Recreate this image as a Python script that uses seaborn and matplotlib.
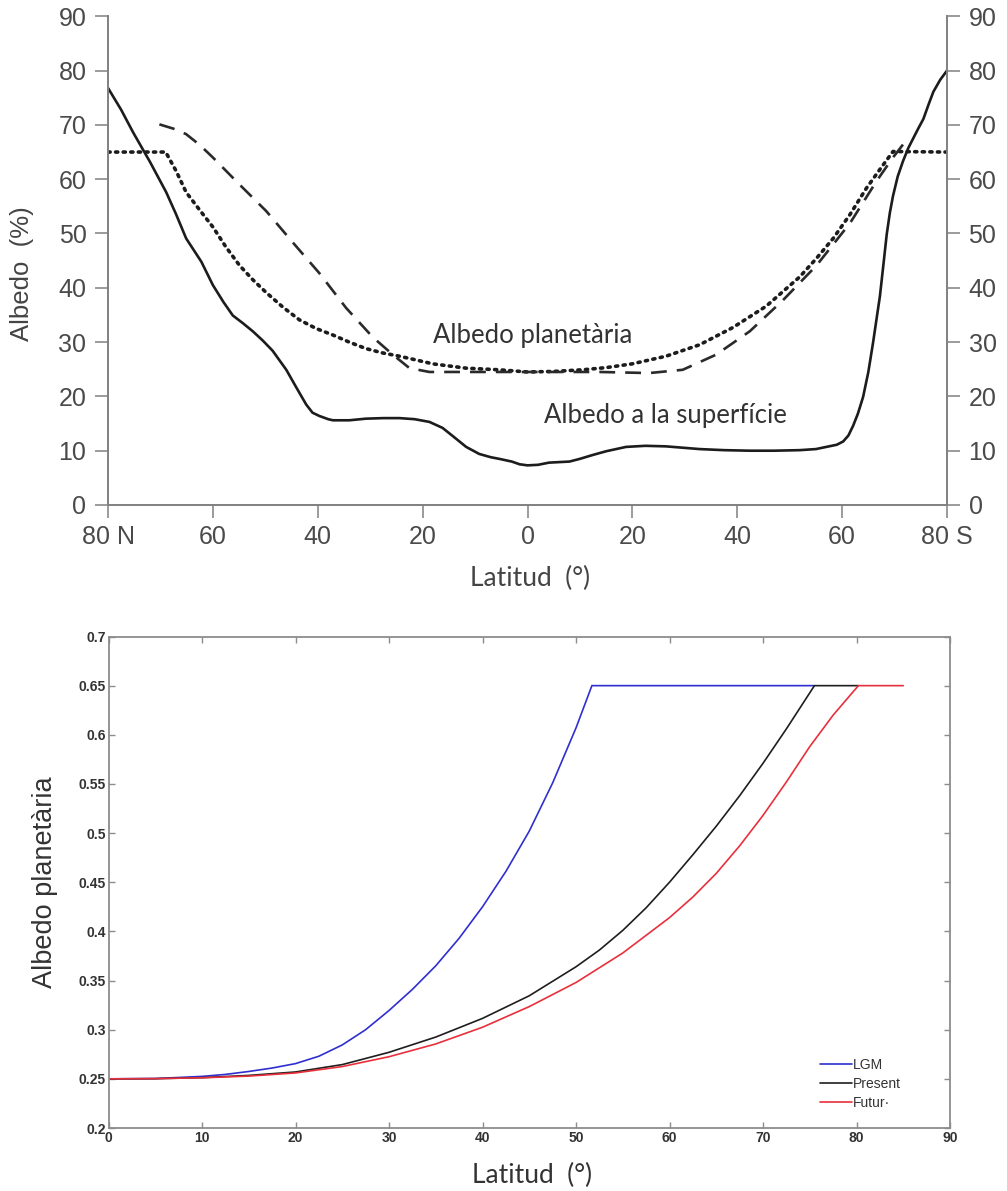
import numpy as np
import pandas as pd
import matplotlib
matplotlib.use("Agg")
import matplotlib.pyplot as plt
import seaborn as sns

# ---------------- Top chart data (latitude: negative = North, positive = South) ----------------
surf_lat = [-80, -77.5, -75.2, -72, -68.9, -67, -65.1, -62.2, -60, -58, -56.2, -54.3, -52.4, -50.5,
            -48.6, -46, -44, -42.2, -41, -39.7, -38, -37.1, -34, -30.8, -27.5, -24.4, -21.5,
            -18.7, -16.2, -14, -11.7, -9.2, -7, -5.4, -3, -1.5, 0, 2, 4.1, 8, 10, 12.4, 15,
            18.8, 22.5, 26.4, 32.8, 37.5, 42.4, 47, 51.9, 55, 57, 59, 60.2, 61.2, 62.1, 63, 64,
            65, 65.9, 66.6, 67.2, 67.9, 68.5, 69.1, 69.7, 70.6, 71.6, 72.6, 73.6, 74.5, 75.5,
            76.5, 77.4, 78.7, 80]
surf_alb = [76.8, 72.8, 68.6, 63.2, 57.6, 53.5, 49.1, 44.8, 40.5, 37.4, 34.9, 33.5, 32.0, 30.3,
            28.4, 24.9, 21.5, 18.5, 17.0, 16.4, 15.8, 15.6, 15.6, 15.9, 16.0, 16.0, 15.8,
            15.3, 14.2, 12.5, 10.7, 9.4, 8.8, 8.5, 8.0, 7.5, 7.3, 7.4, 7.8, 8.0, 8.5, 9.2, 9.9,
            10.7, 10.9, 10.8, 10.3, 10.1, 10.0, 10.0, 10.1, 10.3, 10.7, 11.1, 11.7, 12.8, 14.6,
            16.8, 19.9, 24.5, 29.9, 34.5, 38.4, 44.5, 49.8, 53.8, 56.9, 60.5, 63.3, 65.7, 67.6,
            69.3, 71.1, 73.8, 76.1, 78.3, 80.0]

plan_lat = [-80, -69, -67, -65.1, -62.5, -60, -57.5, -54.9, -52.4, -49.8, -46.6, -43.5, -40.3,
            -37.1, -34, -30.8, -27.6, -24.4, -21.2, -18.1, -14.9, -11.7, -5.4, 0, 5, 10.5, 15,
            20, 26.4, 32.8, 39.2, 45.5, 51.9, 55, 58.3, 61.5, 64.6, 67.2, 69.7, 80]
plan_alb = [65, 65, 61.5, 57.6, 54.3, 51.2, 47.5, 44.1, 41.5, 39.1, 36.4, 34.1, 32.5,
            31.3, 30.0, 28.8, 28.0, 27.4, 26.7, 26.0, 25.6, 25.2, 24.9, 24.5, 24.6, 24.9, 25.3,
            26.0, 27.4, 29.5, 32.7, 36.6, 42.0, 45.3, 49.1, 53.5, 58.3, 61.8, 65.1, 65]

dash_lat = [-70.2, -67.5, -65.1, -62.5, -60, -54.9, -49.8, -44.8, -39.7, -34.6, -29.5, -25.7,
            -22.5, -18.7, -11.7, -5.4, 0, 13.7, 23.2, 29.6, 36, 42.4, 48.7, 55.1, 61.5, 66.6,
            69.7, 72.5]
dash_alb = [70.1, 69.3, 68.3, 66.3, 64.0, 59.0, 54.1, 48.4, 42.7, 36.3, 30.9, 27.7,
            25.2, 24.5, 24.5, 24.5, 24.5, 24.5, 24.3, 24.9, 27.7, 32.0, 37.7, 44.1, 51.9, 59.7,
            64.0, 67.5]

top_xticks = [-80, -60, -40, -20, 0, 20, 40, 60, 80]
top_xticklabels = ["80 N", "60", "40", "20", "0", "20", "40", "60", "80 S"]
top_yticks = [0, 10, 20, 30, 40, 50, 60, 70, 80, 90]

# ---------------- Bottom chart data ----------------
lgm_lat = [0, 5, 10, 12.5, 15, 17.5, 20, 22.5, 25, 27.5, 30, 32.5, 35, 37.5, 40, 42.5, 45,
           47.5, 50, 51.7, 75.5]
lgm_alb = [0.250, 0.2503, 0.2525, 0.2545, 0.2575, 0.261, 0.2655, 0.273, 0.2845, 0.300, 0.3195,
           0.341, 0.365, 0.393, 0.425, 0.461, 0.502, 0.551, 0.607, 0.650, 0.650]

pres_lat = [0, 5, 10, 15, 20, 25, 30, 35, 40, 45, 50, 52.5, 55, 57.5, 60, 62.5, 65, 67.5, 70,
            72.5, 75.5, 80.2]
pres_alb = [0.250, 0.2502, 0.2512, 0.2535, 0.2570, 0.2645, 0.2770, 0.2925, 0.3115, 0.3345,
            0.364, 0.381, 0.401, 0.424, 0.450, 0.478, 0.507, 0.538, 0.571, 0.606, 0.650, 0.650]

fut_lat = [0, 5, 10, 15, 20, 25, 30, 35, 40, 45, 50, 55, 60, 62.5, 65, 67.5, 70, 72.5, 75,
           77.5, 80.2, 85]
fut_alb = [0.250, 0.2502, 0.2511, 0.2528, 0.2560, 0.2625, 0.2725, 0.2855, 0.3025, 0.3235,
           0.348, 0.378, 0.414, 0.435, 0.459, 0.487, 0.518, 0.552, 0.588, 0.620, 0.650, 0.650]

series_names = ["LGM", "Present", "Futur·"]
series_colors = ["#2f2fd0", "#1e1e1e", "#e8303c"]

bot_xticks = [0, 10, 20, 30, 40, 50, 60, 70, 80, 90]
bot_yticks = [0.2, 0.25, 0.3, 0.35, 0.4, 0.45, 0.5, 0.55, 0.6, 0.65, 0.7]
bot_yticklabels = ["0.2", "0.25", "0.3", "0.35", "0.4", "0.45", "0.5", "0.55", "0.6", "0.65", "0.7"]

# ---------------- Figure ----------------
sns.set_theme(style="white")
plt.rcParams["font.family"] = ["Liberation Sans", "DejaVu Sans"]
CAL = ["Lato", "DejaVu Sans"]

W, H = 1007, 1191
fig = plt.figure(figsize=(W / 100, H / 100), dpi=100)

# ---- top axes ----
ax1 = fig.add_axes([108 / W, 1 - 505 / H, (947 - 108) / W, (505 - 16.3) / H])
sns.lineplot(x=surf_lat, y=surf_alb, ax=ax1, color="#1c1c1c", linewidth=1.9, sort=False)
sns.lineplot(x=plan_lat, y=plan_alb, ax=ax1, color="#1c1c1c", linewidth=2.6,
             linestyle=(0, (0.6, 1.5)), dash_capstyle="round", sort=False)
sns.lineplot(x=dash_lat, y=dash_alb, ax=ax1, color="#2a2a2a", linewidth=1.9,
             linestyle=(0, (6, 3.8)), sort=False)

ax1.set_xlim(-80, 80)
ax1.set_ylim(0, 90)
ax1.set_xticks(top_xticks)
ax1.set_xticklabels(top_xticklabels)
ax1.set_yticks(top_yticks)
for s in ["left", "right", "bottom"]:
    ax1.spines[s].set_visible(True)
    ax1.spines[s].set_color("#808080")
    ax1.spines[s].set_linewidth(1.4)
ax1.spines["top"].set_visible(False)
ax1.tick_params(axis="both", which="major", direction="out", length=9.5, width=1.1,
                color="#808080", labelsize=18, labelcolor="#4a4a4a", pad=6)
ax1.tick_params(axis="y", left=True, right=True, labelleft=True, labelright=True)
ax1.tick_params(axis="x", bottom=True, pad=5)
ax1.set_ylabel("Albedo  (%)", fontsize=18.5, color="#444444")
ax1.yaxis.set_label_coords(-0.1025, 0.473)
ax1.set_xlabel("Latitud  (°)", fontsize=19, color="#444444", family=CAL)
ax1.xaxis.set_label_coords(0.503, -0.150)
ax1.xaxis.label.set_verticalalignment("center")
ax1.yaxis.label.set_verticalalignment("center")

ax1.text(-18.1, 31.2, "Albedo planetària", fontsize=18.5, color="#333333",
         family=CAL, va="center", ha="left")
ax1.text(3.2, 16.4, "Albedo a la superfície", fontsize=18.5, color="#333333",
         family=CAL, va="center", ha="left")

# ---- bottom axes ----
ax2 = fig.add_axes([108.5 / W, 1 - 1128 / H, (950 - 108.5) / W, (1128 - 636.5) / H])
for lat, alb, name, col in zip([lgm_lat, pres_lat, fut_lat], [lgm_alb, pres_alb, fut_alb],
                               series_names, series_colors):
    sns.lineplot(x=lat, y=alb, ax=ax2, color=col, linewidth=1.2, label=name, sort=False)

ax2.set_xlim(0, 90)
ax2.set_ylim(0.2, 0.7)
ax2.set_xticks(bot_xticks)
ax2.set_yticks(bot_yticks)
ax2.set_yticklabels(bot_yticklabels)
for s in ["left", "right", "bottom", "top"]:
    ax2.spines[s].set_visible(True)
    ax2.spines[s].set_color("#8c8c8c")
    ax2.spines[s].set_linewidth(1.3)
ax2.tick_params(axis="both", which="major", direction="in", length=4, width=1.0,
                color="#8c8c8c", labelsize=10, labelcolor="#333333", pad=2,
                top=True, right=True, bottom=True, left=True)
for lab in ax2.get_xticklabels() + ax2.get_yticklabels():
    lab.set_fontweight("bold")
ax2.set_ylabel("Albedo planetària", fontsize=19.5, color="#333333")
ax2.yaxis.set_label_coords(-0.0755, 0.50)
ax2.yaxis.label.set_verticalalignment("center")
ax2.set_xlabel("Latitud  (°)", fontsize=19, color="#333333", family=CAL)
ax2.xaxis.set_label_coords(0.503, -0.097)
ax2.xaxis.label.set_verticalalignment("center")

leg = ax2.legend(loc="upper left", bbox_to_anchor=(0.8455, 0.142), frameon=False,
                 fontsize=10, handlelength=2.3, handletextpad=0.1, borderpad=0,
                 borderaxespad=0, labelspacing=0.36)
for t in leg.get_texts():
    t.set_color("#333333")

fig.savefig("out.png", dpi=100, facecolor="white")
